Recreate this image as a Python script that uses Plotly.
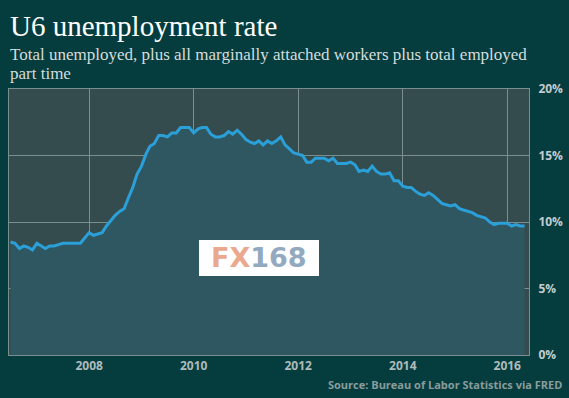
import pandas as pd
import plotly.graph_objects as go

# Monthly U6 unemployment rate (%), Jul 2006 - May 2016
u6_2006 = [8.5, 8.4, 8.0, 8.2, 8.1, 7.9]
u6_2007 = [8.4, 8.2, 8.0, 8.2, 8.2, 8.3, 8.4, 8.4, 8.4, 8.4, 8.4, 8.8]
u6_2008 = [9.2, 9.0, 9.1, 9.2, 9.7, 10.1, 10.5, 10.8, 11.0, 11.8, 12.6, 13.6]
u6_2009 = [14.2, 15.1, 15.7, 15.9, 16.5, 16.5, 16.4, 16.7, 16.7, 17.1, 17.1, 17.1]
u6_2010 = [16.7, 17.0, 17.1, 17.1, 16.6, 16.4, 16.4, 16.5, 16.8, 16.6, 16.9, 16.6]
u6_2011 = [16.2, 16.0, 15.9, 16.1, 15.8, 16.1, 15.9, 16.1, 16.4, 15.8, 15.5, 15.2]
u6_2012 = [15.1, 15.0, 14.5, 14.5, 14.8, 14.8, 14.8, 14.6, 14.8, 14.4, 14.4, 14.4]
u6_2013 = [14.5, 14.3, 13.8, 13.9, 13.8, 14.2, 13.8, 13.6, 13.6, 13.7, 13.1, 13.1]
u6_2014 = [12.7, 12.6, 12.6, 12.3, 12.1, 12.0, 12.2, 12.0, 11.7, 11.4, 11.3, 11.2]
u6_2015 = [11.3, 11.0, 10.9, 10.8, 10.7, 10.5, 10.4, 10.3, 10.0, 9.8, 9.9, 9.9]
u6_2016 = [9.9, 9.7, 9.8, 9.7, 9.7]

values = u6_2006 + u6_2007 + u6_2008 + u6_2009 + u6_2010 + u6_2011 + u6_2012 + u6_2013 + u6_2014 + u6_2015 + u6_2016
dates = pd.date_range("2006-07-01", periods=len(values), freq="MS")

x_tick_vals = ["2008-01-01", "2010-01-01", "2012-01-01", "2014-01-01", "2016-01-01"]
x_tick_text = ["2008", "2010", "2012", "2014", "2016"]
y_tick_vals = [0, 5, 10, 15, 20]
y_tick_text = ["0%", "5%", "10%", "15%", "20%"]

title_text = "U6 unemployment rate"
subtitle_line1 = "Total unemployed, plus all marginally attached workers plus total employed"
subtitle_line2 = "part time"
source_text = "Source: Bureau of Labor Statistics via FRED"

BG = "#053d3e"
PLOT_BG = "#354c4e"
FILL = "#2f5761"
GRID = "#7b8e8e"
LINE = "#2a9fd8"

fig = go.Figure()
fig.add_trace(go.Scatter(
    x=dates, y=values, mode="lines",
    line=dict(color=LINE, width=3),
    fill="tozeroy", fillcolor=FILL,
    hoverinfo="skip", showlegend=False,
))

W, H = 569, 398
L, R, T, B = 9, 40, 89, 43
pw, ph = W - L - R, H - T - B

def px(xp):
    return (xp - L) / pw

def py(yp):
    return (H - B - yp) / ph

fig.update_layout(
    width=W, height=H,
    margin=dict(l=L, r=R, t=T, b=B, pad=0, autoexpand=False),
    paper_bgcolor=BG, plot_bgcolor=PLOT_BG,
    xaxis=dict(
        range=["2006-06-20", "2016-06-01"],
        tickvals=x_tick_vals, ticktext=x_tick_text,
        showgrid=True, gridcolor=GRID, gridwidth=1,
        showline=True, linecolor=GRID, linewidth=1, mirror=True,
        ticks="", zeroline=False, automargin=False,
        tickfont=dict(family="Open Sans", size=12, color="#aebbbb", weight="bold"),
    ),
    yaxis=dict(
        range=[0, 20], side="right",
        tickvals=y_tick_vals, ticktext=y_tick_text,
        showgrid=True, gridcolor=GRID, gridwidth=1,
        showline=True, linecolor=GRID, linewidth=1, mirror=True,
        ticks="", zeroline=False, ticklabelstandoff=6, automargin=False,
        tickfont=dict(family="Open Sans", size=12, color="#c3cccc", weight="bold"),
    ),
    shapes=[dict(
        type="rect", xref="paper", yref="paper",
        x0=px(199), x1=px(319), y0=py(276), y1=py(240),
        fillcolor="#ffffff", line=dict(width=0), layer="above",
    )],
    annotations=[
        dict(text=title_text, xref="paper", yref="paper", x=px(8), y=py(26),
             xanchor="left", yanchor="middle", showarrow=False,
             font=dict(family="Liberation Serif", size=29, color="#ffffff")),
        dict(text=subtitle_line1, xref="paper", yref="paper", x=px(8), y=py(54),
             xanchor="left", yanchor="middle", showarrow=False,
             font=dict(family="Liberation Serif", size=17, color="#d5dcdc")),
        dict(text=subtitle_line2, xref="paper", yref="paper", x=px(8), y=py(74),
             xanchor="left", yanchor="middle", showarrow=False,
             font=dict(family="Liberation Serif", size=17, color="#d5dcdc")),
        dict(text=source_text, xref="paper", yref="paper", x=px(564), y=py(384),
             xanchor="right", yanchor="middle", showarrow=False,
             font=dict(family="Open Sans", size=11, color="#8a9c9c", weight="bold")),
        dict(text="<span style='color:#eaa98f'>FX</span><span style='color:#92a9c0'>168</span>",
             xref="paper", yref="paper", x=px(259), y=py(257),
             xanchor="center", yanchor="middle", showarrow=False,
             font=dict(family="DejaVu Sans", size=27, weight="bold")),
    ],
)

fig.write_html("out.html", config={"displayModeBar": False},
               post_script="document.body.style.margin='0';")
